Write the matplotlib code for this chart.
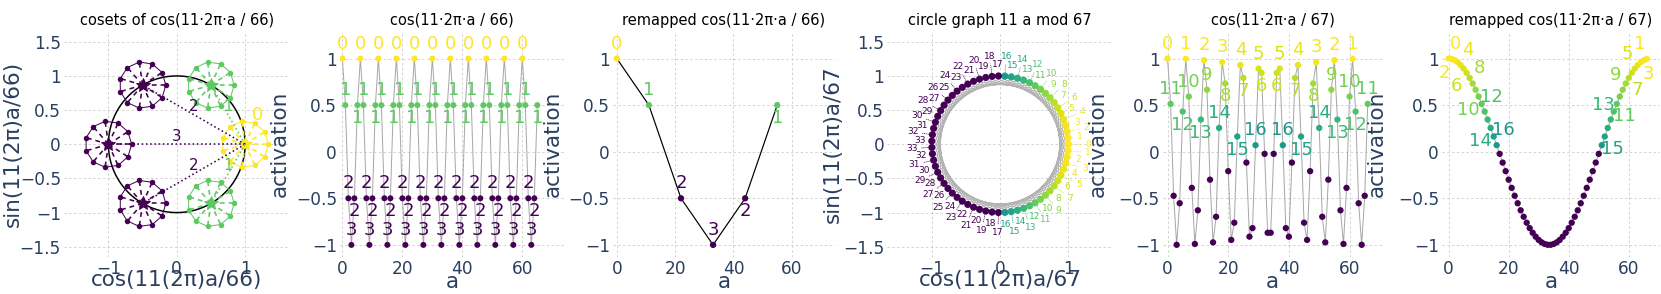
import numpy as np
import matplotlib
matplotlib.use("Agg")
import matplotlib.pyplot as plt
from matplotlib.ticker import FuncFormatter

# ---- data ----
# modulus 66: six cosets of 11 elements each
coset_pos = [0, 11, 22, 33, 44, 55]            # 11a mod 66
coset_act = [1, 0.5, -0.5, -1, -0.5, 0.5]       # cos of each coset
coset_sin = [0, 0.866, 0.866, 0, -0.866, -0.866]
coset_label = [0, 1, 2, 3, 2, 1]
coset_size = 11

a66 = list(range(66))
act66 = coset_act * 11
lab66 = coset_label * 11

# modulus 67: ring position 11a mod 67 for a = 0..66
pos67 = [0, 11, 22, 33, 44, 55, 66, 10, 21, 32, 43, 54, 65, 9, 20, 31, 42, 53, 64,
         8, 19, 30, 41, 52, 63, 7, 18, 29, 40, 51, 62, 6, 17, 28, 39, 50, 61,
         5, 16, 27, 38, 49, 60, 4, 15, 26, 37, 48, 59, 3, 14, 25, 36, 47, 58,
         2, 13, 24, 35, 46, 57, 1, 12, 23, 34, 45, 56]
# activation at ring positions 0..33 (34..66 mirror it)
half_act67 = [1.000, 0.996, 0.982, 0.961, 0.930, 0.892, 0.846, 0.792, 0.732, 0.665,
              0.592, 0.513, 0.431, 0.345, 0.255, 0.163, 0.070, -0.023, -0.117, -0.209,
              -0.300, -0.388, -0.473, -0.553, -0.629, -0.698, -0.762, -0.820, -0.870,
              -0.912, -0.947, -0.973, -0.990, -0.999]
ring_act67 = half_act67 + half_act67[:0:-1]
ring_rank67 = list(range(34)) + list(range(33, 0, -1))
a67 = list(range(67))
act67 = [ring_act67[k] for k in pos67]

# which ranks get their label under the point in panel 5
below_ranks67 = [6, 7, 8, 12, 13, 15]
# labels shown in the remapped 67 panel
remap_left = [0, 2, 4, 6, 8, 10, 12, 14, 16]
remap_right = [1, 3, 5, 7, 9, 11, 13, 15]

titles = ["cosets of cos(11\u00b72\u03c0\u00b7a / 66)", "cos(11\u00b72\u03c0\u00b7a / 66)",
          "remapped cos(11\u00b72\u03c0\u00b7a / 66)", "circle graph 11 a mod 67",
          "cos(11\u00b72\u03c0\u00b7a / 67)", "remapped cos(11\u00b72\u03c0\u00b7a / 67)"]

# ---- figure ----
DPI = 72
W, H = 1661, 294
fig = plt.figure(figsize=(W / DPI, H / DPI), dpi=DPI)

INK = '#2a3f5f'
GRID = '#c8c8c8'
cmap = plt.get_cmap('viridis')


def col(v):
    return cmap((v + 1) / 2) if v > 0 else cmap(0.0)


def fmt(v, p):
    return f'{v:g}'.replace('-', '\u2212')


TOP, BOT = 31.5, 257


def make_ax(left, right, title, xl, yl, ylx, xly):
    ax = fig.add_axes([left / W, 1 - BOT / H, (right - left) / W, (BOT - TOP) / H])
    for s in ax.spines.values():
        s.set_visible(False)
    ax.grid(True, color=GRID, lw=0.8, linestyle=(0, (3, 3)))
    ax.set_axisbelow(True)
    ax.tick_params(length=0, labelsize=17, labelcolor=INK, pad=3)
    ax.xaxis.set_major_formatter(FuncFormatter(fmt))
    ax.yaxis.set_major_formatter(FuncFormatter(fmt))
    ax.set_title(title, fontsize=14.6, pad=7)
    ax.set_xlabel(xl, fontsize=21.5, color=INK, va='center')
    ax.set_ylabel(yl, fontsize=21.5, color=INK, va='center')
    ax.yaxis.set_label_coords((ylx - left) / (right - left), 0.5)
    ax.xaxis.set_label_coords(0.5, -(xly - BOT) / (BOT - TOP))
    return ax


def line_ax(ax, x0, x1):
    ax.set_xlim(x0, x1)
    ax.set_ylim(-1.13, 1.29)
    ax.set_xticks([0, 20, 40, 60])
    ax.set_yticks([-1, -0.5, 0, 0.5, 1])


def circle_ax(ax):
    ax.set_xlim(-1.65, 1.65)
    ax.set_ylim(-1.65, 1.65)
    ax.set_aspect('equal')
    ax.set_xticks([-1, 0, 1])
    ax.set_yticks([-1.5, -1, -0.5, 0, 0.5, 1, 1.5])


def tag(ax, x, y, s, c, dx, dy, size=18):
    ax.annotate(s, (x, y), xytext=(dx, dy), textcoords='offset points',
                ha='center', va='center', color=c, fontsize=size, zorder=5)


# ---- panel 1: cosets ----
ax1 = make_ax(64, 289.5, titles[0], "cos(11(2\u03c0)a/66)", "sin(11(2\u03c0)a/66)", 13, 280)
circle_ax(ax1)
t = np.linspace(0, 2 * np.pi, 200)
ax1.plot(np.cos(t), np.sin(t), color='black', lw=1.5, zorder=2)
phi = np.arange(coset_size) * 2 * np.pi / coset_size
r_small = 0.34
for c in range(6):
    cx, cy, cc = coset_act[c], coset_sin[c], col(coset_act[c])
    px = cx + r_small * np.cos(phi)
    py = cy + r_small * np.sin(phi)
    ax1.plot(np.append(px, px[0]), np.append(py, py[0]), color=cc, lw=1, zorder=3)
    for j in range(coset_size):
        ax1.plot([cx, px[j]], [cy, py[j]], color=cc, lw=1.6, linestyle=(0, (3, 2.5)), zorder=3)
    ax1.scatter(px, py, s=30, color=cc, zorder=4, linewidths=0)
    ax1.plot([cx], [cy], marker='*', ms=14, color=cc, zorder=4)
for c in range(1, 6):
    cc = col(coset_act[c])
    ax1.plot([coset_act[0], coset_act[c]], [coset_sin[0], coset_sin[c]], color=cc, lw=1.6,
             linestyle=':', zorder=4)
    mx = (coset_act[0] + coset_act[c]) / 2
    my = (coset_sin[0] + coset_sin[c]) / 2
    tag(ax1, mx, my, str(coset_label[c]), cc, 0, 8, size=15)
tag(ax1, coset_act[0], coset_sin[0], str(coset_label[0]), col(coset_act[0]), 12, 29, size=18)

# ---- panel 2: cos over a, mod 66 ----
ax2 = make_ax(340, 564, titles[1], "a", "activation", 280, 282.5)
line_ax(ax2, -0.8, 73.9)
ax2.plot(a66, act66, color='#a8a8a8', lw=1, zorder=2)
ax2.scatter(a66, act66, s=36, c=[col(v) for v in act66], zorder=3, linewidths=0)
for a, v, lab in zip(a66, act66, lab66):
    above = (a % 6) <= 3
    tag(ax2, a, v, str(lab), col(v), 0, 15 if above else -13)

# ---- panel 3: remapped mod 66 ----
ax3 = make_ax(613, 835, titles[2], "a", "activation", 553, 282.5)
line_ax(ax3, -1.3, 74.8)
ax3.plot(coset_pos, coset_act, color='black', lw=1.2, zorder=2)
ax3.scatter(coset_pos, coset_act, s=40, c=[col(v) for v in coset_act], zorder=3, linewidths=0)
for i, (x, v, lab) in enumerate(zip(coset_pos, coset_act, coset_label)):
    tag(ax3, x, v, str(lab), col(v), 0, 15 if i <= 3 else -13)

# ---- panel 4: circle graph mod 67 ----
ax4 = make_ax(887.3, 1112.8, titles[3], "cos(11(2\u03c0)a/67", "sin(11(2\u03c0)a/67", 833, 280)
circle_ax(ax4)
ang = np.arange(67) * 2 * np.pi / 67
rx, ry = np.cos(ang), np.sin(ang)
order = pos67 + [pos67[0]]
ax4.plot(rx[order], ry[order], color='#b4b4b4', lw=0.8, zorder=2)
ax4.scatter(rx, ry, s=50, c=[col(v) for v in ring_act67], zorder=4, linewidths=0)
for k in range(67):
    rr = 1.29 if k % 2 == 0 else 1.17
    cc = col(ring_act67[k])
    ax4.annotate(str(ring_rank67[k]), (rx[k], ry[k]), xytext=(rr * rx[k], rr * ry[k]),
                 textcoords='data', ha='center', va='center', fontsize=9, color=cc, zorder=5,
                 arrowprops=dict(arrowstyle='-', color=cc, lw=0.7, linestyle=':',
                                 shrinkA=2, shrinkB=3))

# ---- panel 5: cos over a, mod 67 ----
ax5 = make_ax(1163, 1382, titles[4], "a", "activation", 1098, 282.5)
line_ax(ax5, -1.5, 70.7)
ax5.plot(a67, act67, color='#a8a8a8', lw=1, zorder=2)
ax5.scatter(a67, act67, s=40, c=[col(v) for v in act67], zorder=3, linewidths=0)
for a, v in zip(a67, act67):
    if v > 0:
        rank = ring_rank67[pos67[a]]
        tag(ax5, a, v, str(rank), col(v), 0, -13 if rank in below_ranks67 else 15)

# ---- panel 6: remapped mod 67 ----
ax6 = make_ax(1442, 1660, titles[5], "a", "activation", 1377, 282.5)
line_ax(ax6, -2.2, 70.4)
ax6.plot(a67, ring_act67, color='#a8a8a8', lw=1, zorder=2)
ax6.scatter(a67, ring_act67, s=40, c=[col(v) for v in ring_act67], zorder=3, linewidths=0)
for i, r in enumerate(remap_left):
    v = ring_act67[r]
    dx, dy = (7, 15) if i % 2 == 0 else (-10, -13)
    tag(ax6, r, v, str(r), col(v), dx, dy)
for i, r in enumerate(remap_right):
    k = 67 - r
    v = ring_act67[k]
    dx, dy = (-7, 15) if i % 2 == 0 else (8, -12)
    tag(ax6, k, v, str(r), col(v), dx, dy)

fig.savefig("out.png", dpi=DPI)
